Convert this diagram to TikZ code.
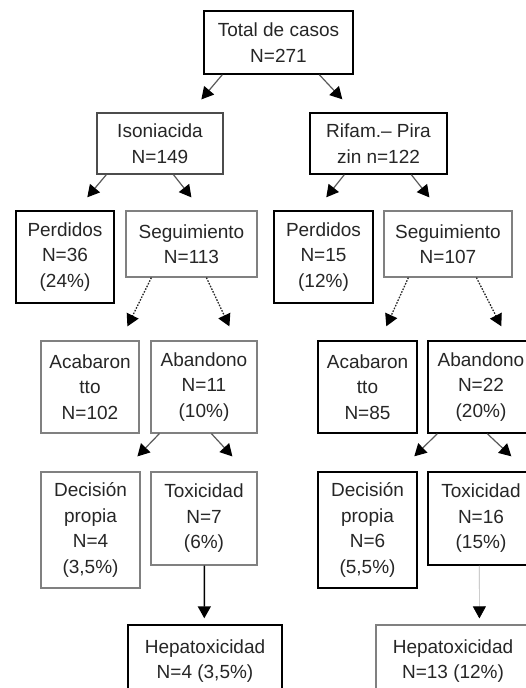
\documentclass[tikz,border=0pt]{standalone}
\usepackage{fontspec}
\setmainfont{Liberation Sans}
\usetikzlibrary{arrows.meta,calc}
\begin{document}
\begin{tikzpicture}[x=1pt,y=1pt,
 bx/.style={draw=black,line width=1.4pt,inner sep=0pt,align=center,text=black!85,
   font=\fontsize{19}{25.5}\selectfont},
 lbx/.style={bx,draw=black!50,line width=1.2pt},
 arr/.style={draw=black!65,line width=1.2pt,-{Triangle[length=12pt,width=13pt,color=black]}},
 darr/.style={arr,draw=black!85,line width=1.3pt,dash pattern=on 1.6pt off 1.4pt},
 larr/.style={arr,draw=black!30,line width=0.7pt},
 sarr/.style={arr,draw=black,line width=1.5pt},
]
\useasboundingbox (0,0) rectangle (525,-688);
% level 1
\node[bx,minimum width=149pt,minimum height=63pt] (total) at (278.5,-42.5) {Total de casos\\N=271};
% level 2
\node[lbx,draw=black!70,minimum width=126pt,minimum height=61pt] (iso) at (160,-143.5) {Isoniacida\\N=149};
\node[bx,minimum width=137pt,minimum height=61pt] (rif) at (378.5,-143.5) {Rifam.– Pira\\zin n=122};
% level 3
\node[bx,minimum width=98pt,minimum height=92pt] (per1) at (65,-257) {Perdidos\\N=36\\(24\%)};
\node[lbx,minimum width=131pt,minimum height=66pt] (seg1) at (191.5,-244) {Seguimiento\\N=113};
\node[bx,minimum width=99pt,minimum height=92pt] (per2) at (323.5,-257) {Perdidos\\N=15\\(12\%)};
\node[lbx,minimum width=128pt,minimum height=66pt] (seg2) at (448,-244) {Seguimiento\\N=107};
% level 4
\node[lbx,minimum width=98pt,minimum height=92pt] (aca1) at (90,-387) {Acabaron\\tto\\N=102};
\node[lbx,minimum width=106pt,minimum height=92pt] (aban1) at (204,-387) {Abandono\\N=11\\(10\%)};
\node[bx,minimum width=99pt,minimum height=92pt] (aca2) at (367.5,-387) {Acabaron\\tto\\N=85};
\node[bx,minimum width=106pt,minimum height=92pt] (aban2) at (481,-387) {Abandono\\N=22\\(20\%)};
% level 5
\node[lbx,minimum width=99pt,minimum height=116pt] (dec1) at (90.5,-530) {Decisión\\propia\\N=4\\(3,5\%)};
\node[lbx,minimum width=106pt,minimum height=93pt] (tox1) at (204,-518.5) {Toxicidad\\N=7\\(6\%)};
\node[bx,minimum width=99pt,minimum height=116pt] (dec2) at (367.5,-530) {Decisión\\propia\\N=6\\(5,5\%)};
\node[bx,minimum width=106pt,minimum height=93pt] (tox2) at (481,-518.5) {Toxicidad\\N=16\\(15\%)};
% level 6
\node[bx,minimum width=154pt,minimum height=72pt] (hep1) at (205,-661) {Hepatoxicidad\\N=4 (3,5\%)};
\node[lbx,minimum width=154pt,minimum height=72pt] (hep2) at (453,-661) {Hepatoxicidad\\N=13 (12\%)};
% connectors
\draw[arr] ($(total.south west)+(19,0)$) -- ($(iso.north west)+(105,13)$);
\draw[arr] ($(total.south west)+(116,0)$) -- ($(rif.north west)+(33,13)$);
\draw[arr] ($(iso.south west)+(10,0)$) -- ($(per1.north west)+(72,13)$);
\draw[arr] ($(iso.south west)+(77,0)$) -- ($(seg1.north west)+(66,13)$);
\draw[arr] ($(rif.south west)+(35,0)$) -- ($(per2.north west)+(53,13)$);
\draw[arr] ($(rif.south west)+(102,0)$) -- ($(seg2.north west)+(46,13)$);
\draw[darr] ($(seg1.south west)+(26,0)$) -- ($(aca1.north west)+(87,14)$);
\draw[darr] ($(seg1.south west)+(81,0)$) -- ($(aban1.north west)+(79,14)$);
\draw[darr] ($(seg2.south west)+(25,0)$) -- ($(aca2.north west)+(69,14)$);
\draw[darr] ($(seg2.south west)+(93,0)$) -- ($(aban2.north west)+(74,14)$);
\draw[arr] ($(aban1.south west)+(9,0)$) -- ($(dec1.north west)+(97,15)$);
\draw[arr] ($(aban1.south west)+(61,0)$) -- ($(tox1.north west)+(82,15)$);
\draw[arr] ($(aban2.south west)+(10,0)$) -- ($(dec2.north west)+(97,15)$);
\draw[arr] ($(aban2.south west)+(60,0)$) -- ($(tox2.north west)+(84,15)$);
\draw[sarr] ($(tox1.south west)+(54,0)$) -- ($(hep1.north west)+(77,6)$);
\draw[larr] ($(tox2.south west)+(52,0)$) -- ($(hep2.north west)+(104,6)$);
\end{tikzpicture}
\end{document}
